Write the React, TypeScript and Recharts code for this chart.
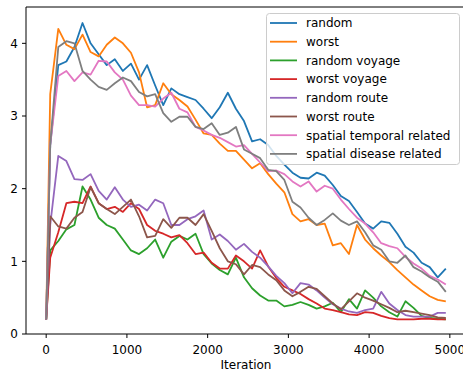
import { Label, Legend, Line, LineChart, ReferenceLine, XAxis, YAxis } from "recharts";

const iterations = [
  0, 50, 150, 250, 350, 450, 550, 650, 750, 850, 950, 1050, 1150, 1250, 1350, 1450, 1550,
  1650, 1750, 1850, 1950, 2050, 2150, 2250, 2350, 2450, 2550, 2650, 2750, 2850, 2950, 3050,
  3150, 3250, 3350, 3450, 3550, 3650, 3750, 3850, 3950, 4050, 4150, 4250, 4350, 4450, 4550,
  4650, 4750, 4850, 4950,
];

const random = [
  0.2, 2.6, 3.7, 3.75, 3.95, 4.28, 4.0, 3.85, 3.7, 3.78, 3.62, 3.72, 3.5, 3.7, 3.42, 3.15, 3.38,
  3.3, 3.26, 3.22, 3.1, 2.97, 3.12, 3.32, 3.1, 2.93, 2.65, 2.68, 2.6, 2.45, 2.33, 2.22, 2.15,
  2.14, 2.22, 2.18, 2.05, 1.9, 1.83, 1.68, 1.52, 1.45, 1.55, 1.53, 1.38, 1.2, 1.12, 0.98, 0.92,
  0.78, 0.9,
];

const worst = [
  0.2, 3.3, 4.2, 3.98, 3.92, 4.12, 3.88, 3.82, 3.98, 4.08, 4.0, 3.87, 3.6, 3.12, 3.15, 3.45, 3.3,
  3.22, 3.13, 2.95, 2.76, 2.74, 2.62, 2.52, 2.52, 2.4, 2.28, 2.35, 2.2, 2.07, 1.95, 1.65, 1.55,
  1.58, 1.5, 1.52, 1.22, 1.25, 1.1, 1.5, 1.3, 1.18, 1.08, 0.99, 0.88, 0.78, 0.68, 0.6, 0.52,
  0.47, 0.45,
];

const randomVoyage = [
  0.2, 1.15, 1.28, 1.44, 1.5, 2.03, 1.85, 1.6, 1.5, 1.45, 1.3, 1.15, 1.1, 1.18, 1.3, 1.05, 1.27,
  1.35, 1.3, 1.38, 1.1, 0.97, 0.88, 0.82, 1.05, 0.78, 0.63, 0.53, 0.46, 0.46, 0.38, 0.4, 0.44,
  0.4, 0.35, 0.38, 0.43, 0.3, 0.48, 0.35, 0.6, 0.5, 0.38, 0.3, 0.24, 0.45, 0.36, 0.25, 0.22,
  0.21, 0.2,
];

const worstVoyage = [
  0.2, 1.05, 1.4, 1.8, 1.82, 1.8, 2.03, 1.8, 1.72, 1.75, 1.68, 1.8, 1.72, 1.5, 1.42, 1.38, 1.33,
  1.36, 1.25, 1.1, 1.12, 0.98, 0.9, 0.9, 1.08, 1.0, 0.9, 1.15, 0.93, 0.77, 0.65, 0.6, 0.55,
  0.48, 0.42, 0.35, 0.33, 0.3, 0.27, 0.26, 0.3, 0.29, 0.25, 0.22, 0.2, 0.2, 0.2, 0.21, 0.21,
  0.2, 0.2,
];

const randomRoute = [
  0.2, 1.5, 2.45, 2.38, 2.13, 2.12, 2.2, 1.97, 1.85, 2.02, 1.85, 1.75, 1.78, 1.7, 1.85, 1.8, 1.5,
  1.5, 1.58, 1.62, 1.7, 1.3, 1.37, 1.28, 1.16, 1.24, 1.13, 1.05, 0.93, 0.8, 0.7, 0.56, 0.7,
  0.68, 0.6, 0.5, 0.41, 0.35, 0.31, 0.29, 0.33, 0.35, 0.58, 0.42, 0.33, 0.26, 0.24, 0.24, 0.24,
  0.29, 0.29,
];

const worstRoute = [
  0.2, 1.62, 1.48, 1.45, 1.6, 1.68, 2.02, 1.8, 1.72, 1.65, 1.75, 1.85, 1.62, 1.33, 1.35, 1.58,
  1.46, 1.6, 1.6, 1.5, 1.65, 1.42, 1.18, 1.0, 0.96, 0.82, 0.95, 0.92, 0.82, 0.74, 0.6, 0.52,
  0.58, 0.65, 0.62, 0.52, 0.42, 0.34, 0.45, 0.56, 0.5, 0.46, 0.41, 0.36, 0.3, 0.32, 0.3, 0.28,
  0.26, 0.23, 0.22,
];

const spatialTemporal = [
  0.2, 2.6, 3.55, 3.62, 3.48, 3.6, 3.57, 3.76, 3.75, 3.6, 3.5, 3.28, 3.15, 3.15, 3.13, 3.24, 3.32,
  3.1, 3.05, 2.85, 2.8, 2.74, 2.7, 2.64, 2.58, 2.6, 2.48, 2.36, 2.24, 2.25, 2.2, 2.1, 2.03, 2.1,
  1.96, 2.04, 2.0, 1.85, 1.72, 1.6, 1.52, 1.4, 1.25, 1.21, 1.18, 1.06, 0.97, 0.9, 0.8, 0.75,
  0.68,
];

const spatialDisease = [
  0.2, 2.6, 3.95, 4.03, 4.0, 3.62, 3.5, 3.4, 3.36, 3.45, 3.53, 3.48, 3.33, 3.27, 3.3, 3.04, 2.92,
  2.99, 2.99, 2.85, 2.82, 2.9, 2.74, 2.77, 2.85, 2.54, 2.48, 2.42, 2.26, 2.24, 2.12, 1.82, 1.74,
  1.6, 1.5, 1.57, 1.66, 1.56, 1.5, 1.55, 1.4, 1.22, 1.16, 1.0, 0.98, 1.08, 0.92, 0.86, 0.78,
  0.72, 0.58,
];

const xTicks = [0, 1000, 2000, 3000, 4000, 5000];
const yTicks = [0, 1, 2, 3, 4];

const seriesList = [
  { key: "random", name: "random", color: "#1f77b4", values: random },
  { key: "worst", name: "worst", color: "#ff7f0e", values: worst },
  { key: "randomVoyage", name: "random voyage", color: "#2ca02c", values: randomVoyage },
  { key: "worstVoyage", name: "worst voyage", color: "#d62728", values: worstVoyage },
  { key: "randomRoute", name: "random route", color: "#9467bd", values: randomRoute },
  { key: "worstRoute", name: "worst route", color: "#8c564b", values: worstRoute },
  { key: "spatialTemporal", name: "spatial temporal related", color: "#e377c2", values: spatialTemporal },
  { key: "spatialDisease", name: "spatial disease related", color: "#7f7f7f", values: spatialDisease },
];

const data = iterations.map((iteration, i) => {
  const row: Record<string, number> = { iteration };
  seriesList.forEach((s) => {
    row[s.key] = s.values[i];
  });
  return row;
});

const FONT = "'DejaVu Sans', sans-serif";

function LegendBox() {
  const rowGap = 18.7;
  return (
    <svg width={195} height={153} style={{ display: "block" }}>
      <rect
        x={0.5}
        y={0.5}
        width={193}
        height={151}
        rx={3}
        fill="rgba(255,255,255,0.8)"
        stroke="#cccccc"
      />
      {seriesList.map((s, i) => {
        const cy = 10 + i * rowGap;
        return (
          <g key={s.key}>
            <line x1={4} x2={31} y1={cy} y2={cy} stroke={s.color} strokeWidth={1.8} />
            <text x={40} y={cy + 4.3} fontSize={12} fontFamily={FONT} fill="#000">
              {s.name}
            </text>
          </g>
        );
      })}
    </svg>
  );
}

export default function App() {
  return (
    <div style={{ position: "absolute", left: 0, top: 0, width: 463, height: 376, overflow: "hidden" }}>
      <LineChart
        width={480}
        height={376}
        data={data}
        margin={{ top: 7, right: 14, left: 0, bottom: 0 }}
        style={{ fontFamily: FONT }}
      >
        <XAxis
          dataKey="iteration"
          type="number"
          domain={[-250, 5200]}
          ticks={xTicks}
          interval={0}
          allowDataOverflow
          height={42}
          tickSize={4}
          tickMargin={7}
          tick={{ fill: "#000", fontSize: 12 }}
          axisLine={{ stroke: "#000" }}
          tickLine={{ stroke: "#000" }}
        >
          <Label value="Iteration" position="insideBottom" offset={7} fill="#000" fontSize={12} />
        </XAxis>
        <YAxis
          type="number"
          domain={[0, 4.5]}
          ticks={yTicks}
          interval={0}
          allowDataOverflow
          width={26}
          tickSize={4}
          tickMargin={4}
          tick={{ fill: "#000", fontSize: 12 }}
          axisLine={{ stroke: "#000" }}
          tickLine={{ stroke: "#000" }}
        />
        <ReferenceLine y={4.5} stroke="#000" strokeWidth={1} />
        {seriesList.map((s) => (
          <Line
            key={s.key}
            type="linear"
            dataKey={s.key}
            name={s.name}
            stroke={s.color}
            strokeWidth={1.8}
            strokeLinejoin="round"
            dot={false}
            activeDot={false}
            isAnimationActive={false}
          />
        ))}
        <Legend
          content={() => <LegendBox />}
          layout="vertical"
          verticalAlign="middle"
          align="center"
          wrapperStyle={{ left: 266, top: 13, width: 195, height: 153 }}
        />
      </LineChart>
    </div>
  );
}
